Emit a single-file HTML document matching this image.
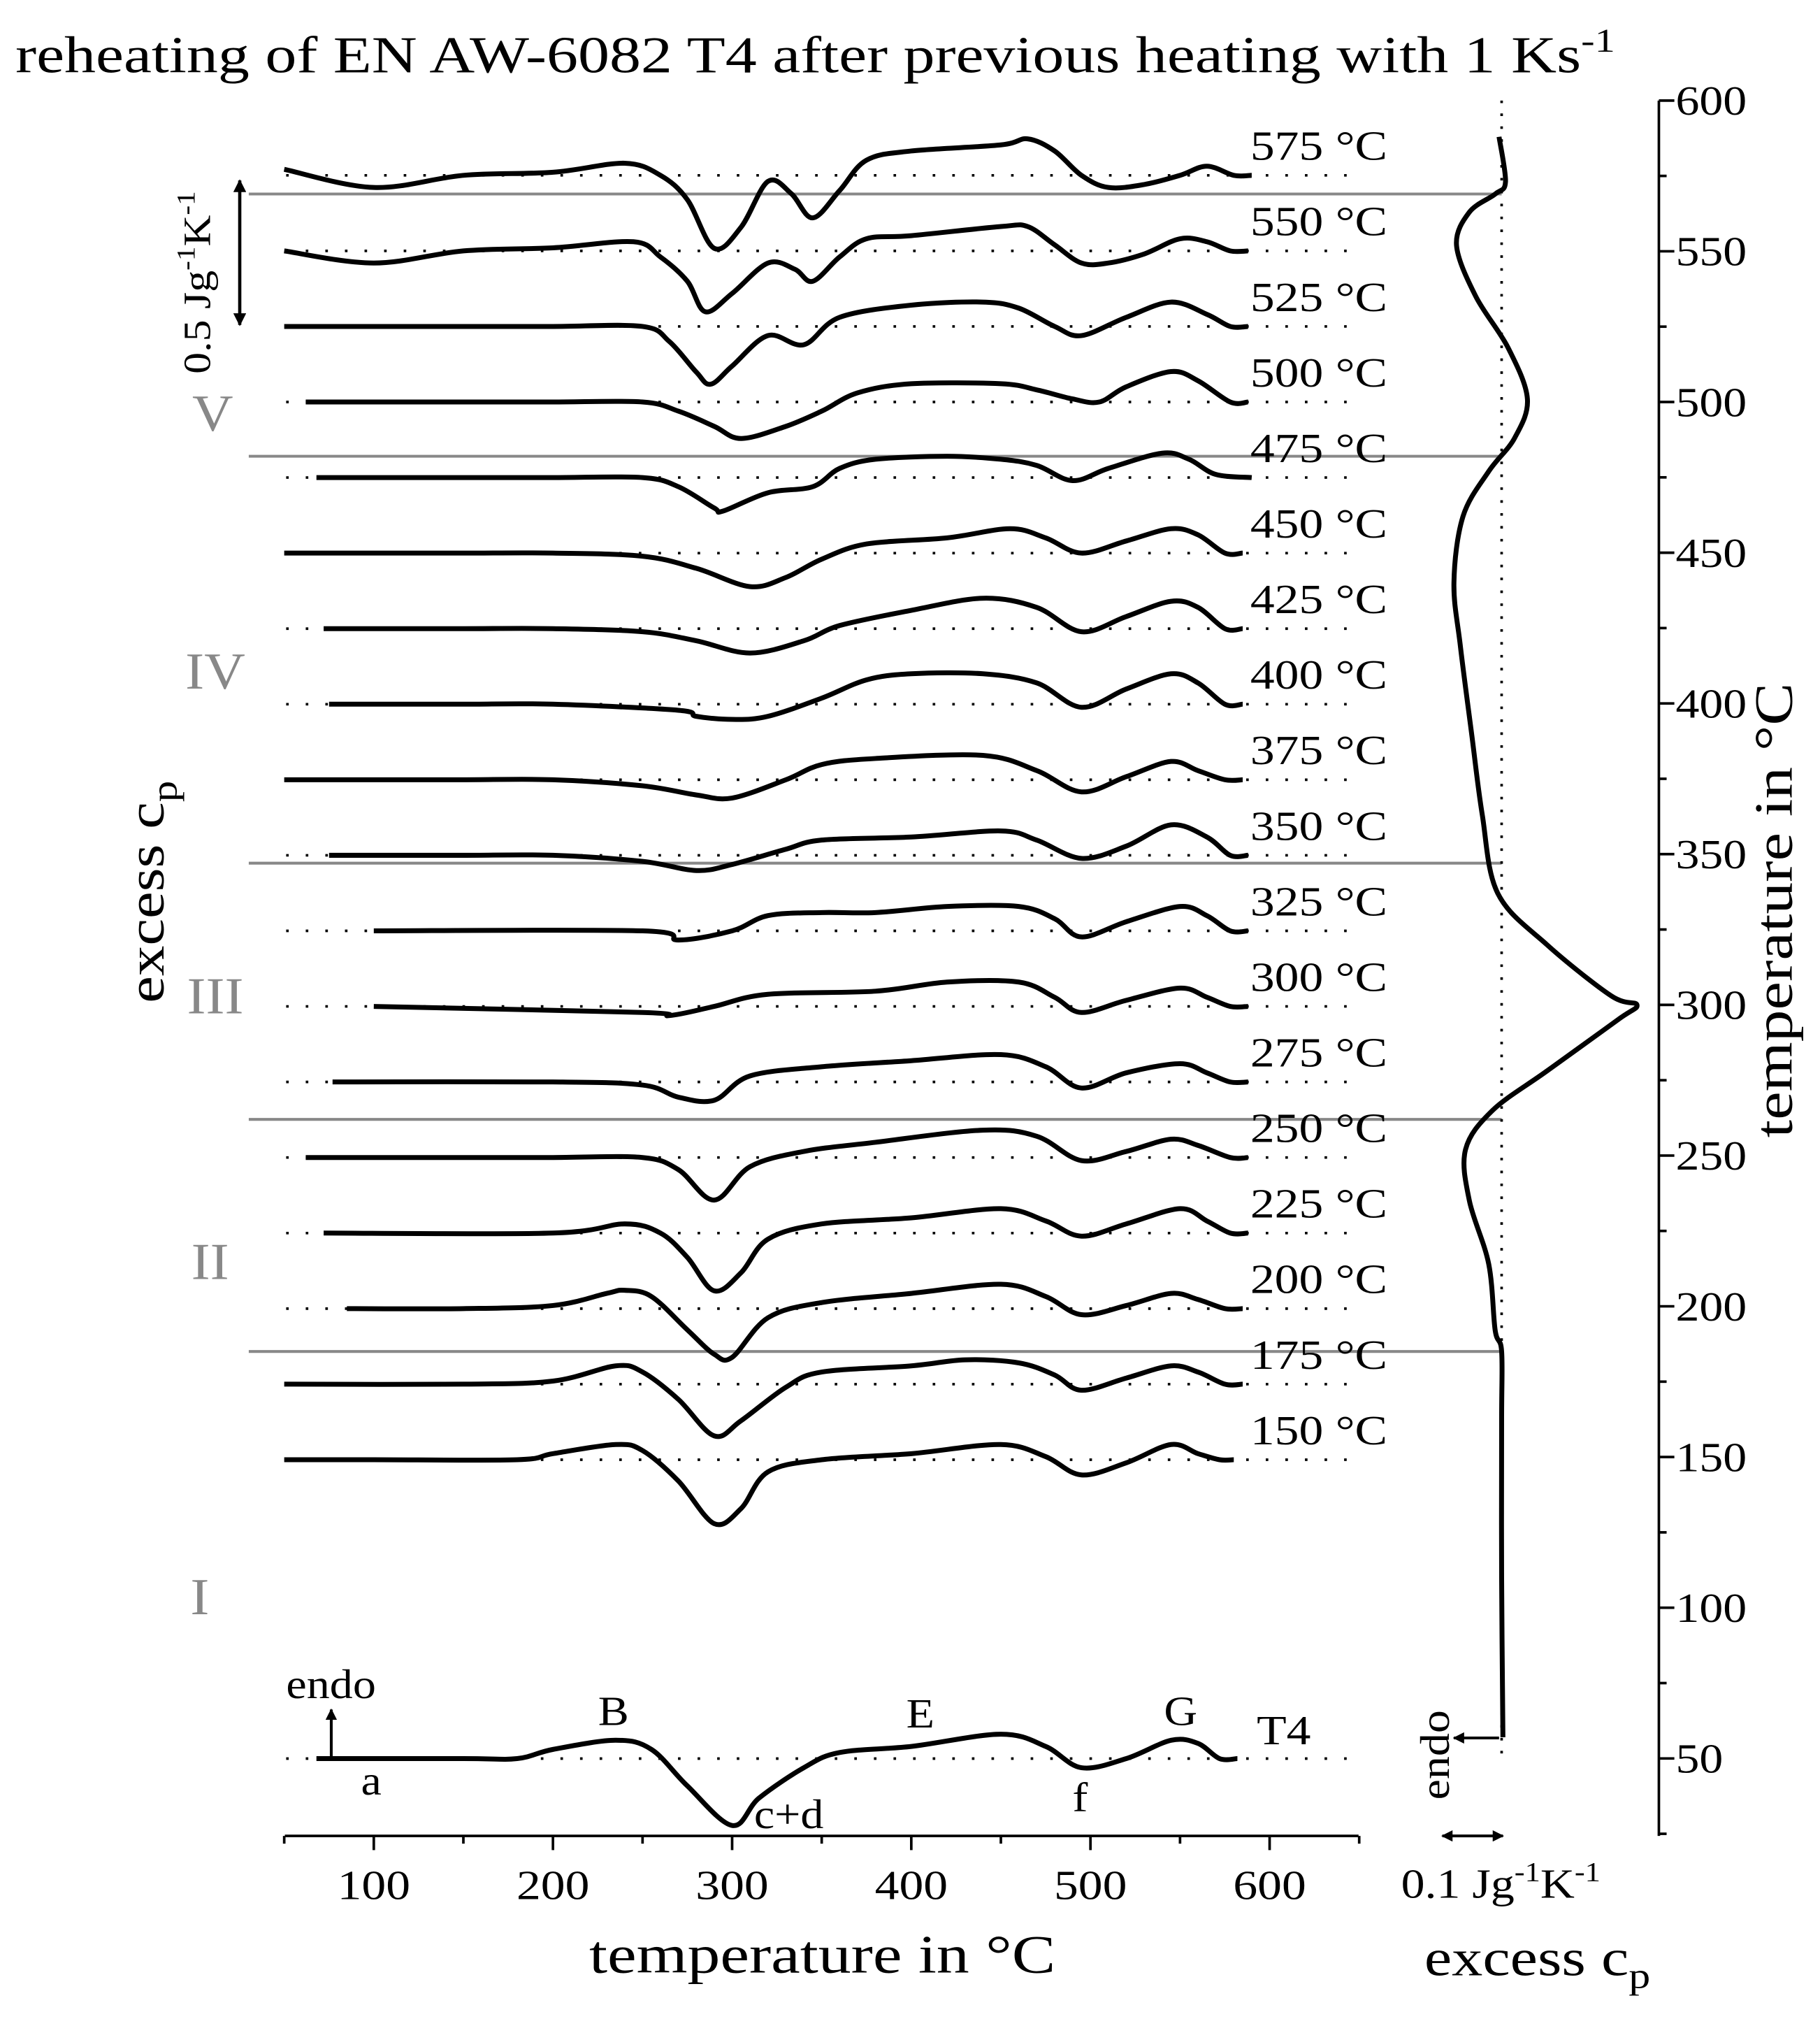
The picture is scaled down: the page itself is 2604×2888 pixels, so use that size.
<!DOCTYPE html>
<html><head><meta charset="utf-8"><style>
html,body{margin:0;padding:0;background:#fff}
svg{display:block}
text{font-family:"Liberation Serif",serif;fill:#000}
</style></head><body>
<svg id="chart" width="2604" height="2888" viewBox="0 0 1412 1566" preserveAspectRatio="none" xmlns="http://www.w3.org/2000/svg">
<g id="root"></g>
</svg>
<script>
// ---- data ----
const curveLabels = ["575 °C","550 °C","525 °C","500 °C","475 °C","450 °C","425 °C","400 °C","375 °C","350 °C","325 °C","300 °C","275 °C","250 °C","225 °C","200 °C","175 °C","150 °C","T4"];
// values in 0.01 J g^-1 K^-1 (positive = up)
const T575=[50,100,150,200,240,260,275,290,305,320,333,345,360,375,400,450,465,480,495,510,530,550,565,580,590];
const V575=[2,-4,0,1,4,0,-8,-24,-17,-2,-6,-14,-5,5,8,10,12,8,0,-4,-3,0,3,0,0];
const T550=[50,100,150,200,245,260,275,285,300,320,335,345,360,375,400,450,465,480,495,510,530,550,565,578,588];
const V550=[0,-4,0,1,3,-2,-10,-20,-14,-4,-6,-10,-2,4,5,8,8,2,-4,-4,-1,4,3,0,0];
const T525=[50,100,150,200,250,265,280,288,300,320,340,360,400,440,460,480,495,520,545,565,578,588];
const V525=[0,0,0,0,0,-5,-15,-19,-13,-3,-6,3,7,8,6,0,-3,3,8,4,0,0];
const T500=[62,100,150,200,250,270,290,305,330,350,370,400,450,470,490,505,520,545,560,578,588];
const V500=[0,0,0,0,0,-3,-8,-12,-8,-3,3,6,6,4,1,0,5,10,7,0,0];
const T475=[68,100,150,200,250,270,290,295,320,345,360,380,420,450,470,490,510,540,555,570,590];
const V475=[0,0,0,0,0,-3,-10,-11,-5,-3,3,6,7,6,4,-1,3,8,6,1,0];
const T450=[50,100,150,200,250,280,310,330,350,375,420,455,475,495,520,545,560,575,585];
const V450=[0,0,0,0,-1,-5,-11,-8,-2,3,5,8,5,0,4,8,6,0,0];
const T425=[72,100,150,200,250,280,310,340,360,400,440,470,495,520,545,560,575,585];
const V425=[0,0,0,0,-1,-4,-8,-4,1,6,10,7,-1,4,9,7,0,0];
const T400=[75,100,150,200,270,280,300,320,350,375,400,440,470,495,520,545,560,575,585];
const V400=[0,0,0,0,-2,-4,-5,-4,2,8,10,10,7,-1,5,10,7,0,0];
const T375=[50,100,150,200,250,280,300,330,350,380,440,470,495,520,545,560,575,585];
const V375=[0,0,0,0,-2,-5,-6,0,5,7,8,3,-4,1,6,3,0,0];
const T350=[75,100,150,200,250,280,300,330,350,400,450,470,495,520,545,565,578,588];
const V350=[0,0,0,0,-2,-5,-3,2,5,6,8,5,-1,3,10,6,0,0];
const T325=[100,250,270,300,320,350,380,420,460,480,495,520,550,565,578,588];
const V325=[0,0,-3,0,5,6,6,8,8,4,-2,3,8,5,0,0];
const T300=[100,250,265,290,320,380,420,460,480,495,520,550,565,578,588];
const V300=[0,-2,-3,0,4,5,8,8,3,-2,2,6,3,0,0];
const T275=[77,200,250,270,290,310,350,400,450,475,495,520,550,565,578,588];
const V275=[0,0,-1,-5,-6,2,5,7,9,5,-2,3,6,3,0,0];
const T250=[62,100,150,200,250,270,290,310,340,380,440,470,495,520,545,560,578,588];
const V250=[0,0,0,0,0,-4,-14,-3,2,5,9,7,-1,2,6,4,0,0];
const T225=[72,200,240,260,275,290,305,320,350,400,450,475,495,520,550,565,578,588];
const V225=[0,0,3,0,-8,-19,-13,-2,3,5,8,4,-1,3,8,4,0,0];
const T200=[85,150,200,230,240,255,275,290,300,320,350,400,450,475,495,520,545,560,575,585];
const V200=[0,0,1,5,6,4,-7,-15,-16,-3,2,5,8,4,-2,1,5,3,0,0];
const T175=[50,150,200,235,250,270,290,305,330,350,400,430,460,480,495,520,545,560,575,585];
const V175=[0,0,1,6,4,-5,-17,-12,-1,4,6,8,7,3,-2,2,6,4,0,0];
const T150=[50,100,180,200,235,250,270,290,305,320,350,400,450,475,495,520,545,560,572,580];
const V150=[0,0,0,2,5,3,-7,-21,-16,-4,0,2,5,1,-5,-1,5,2,0,0];
const TT4=[68,150,180,200,235,255,275,300,315,340,360,400,450,475,495,520,545,560,572,582];
const VT4=[0,0,0,3,6,3,-9,-22,-13,-3,2,4,8,4,-3,0,6,5,0,0];
const curveTemps=[T575,T550,T525,T500,T475,T450,T425,T400,T375,T350,T325,T300,T275,T250,T225,T200,T175,T150,TT4];
const curveVals=[V575,V550,V525,V500,V475,V450,V425,V400,V375,V350,V325,V300,V275,V250,V225,V200,V175,V150,VT4];
// right panel: excess cp (J/gK) vs temperature
const rightTemp=[588,573,569,563,552,535,518,501,488,477,462,440,419,389,363,337,320,303,300,295,278,265,252,235,214,192,185,162,110,57];
const rightCp=[-0.004,0.006,-0.010,-0.050,-0.070,-0.040,0.010,0.040,0.020,-0.020,-0.060,-0.074,-0.064,-0.046,-0.030,-0.006,0.070,0.170,0.210,0.180,0.070,-0.014,-0.056,-0.050,-0.020,-0.010,0.000,0.000,0.000,0.002];
const xTicks=[100,200,300,400,500,600];
const yTicks=[50,100,150,200,250,300,350,400,450,500,550,600];
const regionTemps=[569,482,347,262,185];
const romanLabels=["V","IV","III","II","I"];
// ---- scales ----
const X=t=>290+(t-100)*1.39;
const YR=t=>78+(600-t)*2.338;
const baseY=i=> i<18 ? 136+i*58.6 : 1364;
const VPX=2.36; // px per 0.01 J/gK
const XR=v=>1165+v*500;
const NS="http://www.w3.org/2000/svg";
const root=document.getElementById('root');
function mk(tag,attrs,parent){const e=document.createElementNS(NS,tag);for(const k in attrs)e.setAttribute(k,attrs[k]);(parent||root).appendChild(e);return e;}
function txt(s,x,y,size,extra,sx,rot){const tr=`translate(${x},${y})`+(rot?` rotate(${rot})`:'')+` scale(${sx||1},1)`;const e=mk('text',Object.assign({x:0,y:0,'font-size':size,transform:tr},extra||{}));e.textContent=s;return e;}
function smooth(pts){let d=`M${pts[0][0].toFixed(1)},${pts[0][1].toFixed(1)}`;for(let i=0;i<pts.length-1;i++){const p0=pts[i-1]||pts[i],p1=pts[i],p2=pts[i+1],p3=pts[i+2]||p2;const c1=[p1[0]+(p2[0]-p0[0])/6,p1[1]+(p2[1]-p0[1])/6],c2=[p2[0]-(p3[0]-p1[0])/6,p2[1]-(p3[1]-p1[1])/6];d+=` C${c1[0].toFixed(1)},${c1[1].toFixed(1)} ${c2[0].toFixed(1)},${c2[1].toFixed(1)} ${p2[0].toFixed(1)},${p2[1].toFixed(1)}`;}return d;}

// title
let t=txt('reheating of EN AW-6082 T4  after previous heating with 1 Ks',12,56,40,{'xml:space':'preserve'},1.22);


const sup=mk('tspan',{dy:-16,'font-size':26},t);sup.textContent='-1';

// region lines
regionTemps.forEach((rt,i)=>{
  const l=mk('line',{x1:193,x2:1165,y1:YR(rt),y2:YR(rt),stroke:'#888','stroke-width':2.2});
  
  
});
const romanY=[320,520,772,978,1238],romanX=[165,167,167,163,155];
romanLabels.forEach((r,i)=>{
  const e=txt(r,romanX[i],romanY[i]+14,40,{'text-anchor':'middle',style:'fill:#888'},1.1);
  
  
});

// curves
curveLabels.forEach((lab,i)=>{
  const b=baseY(i);
  const dl=mk('line',{x1:222,x2:1047,y1:b,y2:b,stroke:'#000','stroke-width':2,'stroke-dasharray':'2 13.2'});
  
  
  const pts=curveTemps[i].map((tt,j)=>[X(tt),b-curveVals[i][j]*VPX]);
  const p=mk('path',{d:smooth(pts),fill:'none',stroke:'#000','stroke-width':3.8,'stroke-linejoin':'round'});
  
  
  const lt=txt(lab,i<18?970:975,i<18?b-12:1353,32,{},1.18);
  
  
});

// x axis
let ax=mk('line',{x1:221,x2:1054,y1:1424,y2:1424,stroke:'#000','stroke-width':2});


for(let v=50;v<=650;v+=50){const xx=X(v);if(xx<220||xx>1055)continue;mk('line',{x1:xx,x2:xx,y1:1424,y2:1424+(v%100?6:11),stroke:'#000','stroke-width':2});}
xTicks.forEach(v=>{const e=txt(String(v),X(v),1473,32,{'text-anchor':'middle'},1.18);});
t=txt('temperature in °C',638,1530,42,{'text-anchor':'middle'},1.21);



// right axis
ax=mk('line',{x1:1287,x2:1287,y1:78,y2:1424,stroke:'#000','stroke-width':2});


for(let v=25;v<=600;v+=25){const yy=YR(v);if(yy>1424)continue;mk('line',{x1:1287,x2:1287+(v%50?6:12),y1:yy,y2:yy,stroke:'#000','stroke-width':2});}
yTicks.forEach(v=>{const e=txt(String(v),1300,YR(v)+11,32,{},1.15);});
t=txt('temperature in °C',1390,706,42,{'text-anchor':'middle'},1.18,-90);



// right panel curve
let dv=mk('line',{x1:1165,x2:1165,y1:78,y2:1360,stroke:'#000','stroke-width':2,'stroke-dasharray':'2 8'});


const rp=mk('path',{d:smooth(rightTemp.map((tt,j)=>[XR(rightCp[j]),YR(tt)])),fill:'none',stroke:'#000','stroke-width':3.8});



// markers / arrows
const defs=mk('defs',{});
const mkr=mk('marker',{id:'ah',viewBox:'0 0 10 10',refX:9,refY:5,markerWidth:4,markerHeight:4,orient:'auto-start-reverse'},defs);
mk('path',{d:'M0,0 L10,5 L0,10 z',fill:'#000'},mkr);
let a=mk('line',{x1:186,x2:186,y1:140,y2:252,stroke:'#000','stroke-width':2.5,'marker-start':'url(#ah)','marker-end':'url(#ah)'});

t=txt('0.5 Jg',163,290,30,{},1.12,-90);

let s1=mk('tspan',{dy:-12,'font-size':20},t);s1.textContent='-1';
let s2=mk('tspan',{dy:12},t);s2.textContent='K';
let s3=mk('tspan',{dy:-12,'font-size':20},t);s3.textContent='-1';
t=txt('excess c',127,778,40,{},1.18,-90);

s1=mk('tspan',{dy:10,'font-size':28},t);s1.textContent='p';

a=mk('line',{x1:257,x2:257,y1:1364,y2:1326,stroke:'#000','stroke-width':2.2,'marker-end':'url(#ah)'});

t=txt('endo',222,1317,32,{},1.12);
[['a',288,1392],['B',476,1338],['c+d',612,1418],['E',714,1340],['f',838,1405],['G',916,1338]].forEach(p=>{const e=txt(p[0],p[1],p[2],32,{'text-anchor':'middle'},1.12);});

a=mk('line',{x1:1163,x2:1128,y1:1348,y2:1348,stroke:'#000','stroke-width':2.2,'marker-end':'url(#ah)'});

t=txt('endo',1124,1396,32,{},1.12,-90);

a=mk('line',{x1:1119,x2:1166,y1:1424,y2:1424,stroke:'#000','stroke-width':2.2,'marker-start':'url(#ah)','marker-end':'url(#ah)'});

t=txt('0.1 Jg',1087,1472,32,{},1.15);

s1=mk('tspan',{dy:-13,'font-size':21},t);s1.textContent='-1';
s2=mk('tspan',{dy:13},t);s2.textContent='K';
s3=mk('tspan',{dy:-13,'font-size':21},t);s3.textContent='-1';
t=txt('excess c',1105,1532,40,{},1.2);

s1=mk('tspan',{dy:10,'font-size':28},t);s1.textContent='p';
</script>
</body></html>
